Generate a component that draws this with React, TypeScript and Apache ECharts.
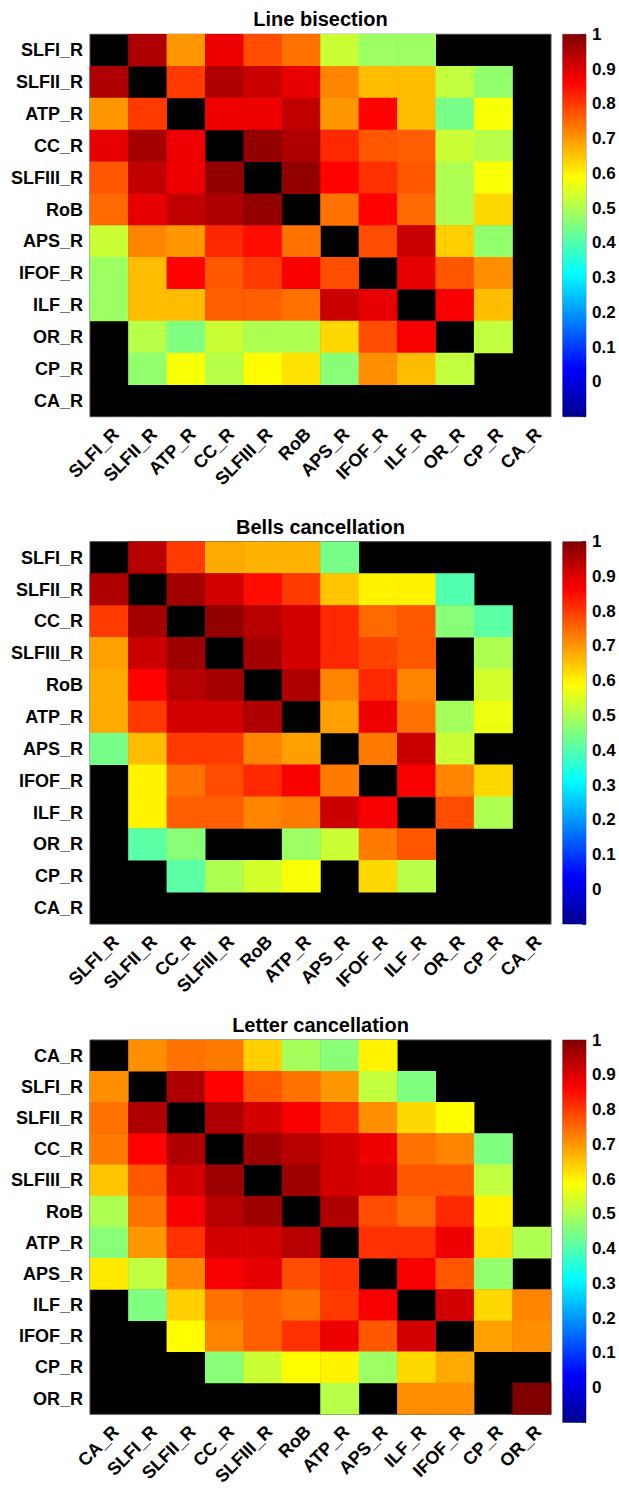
import React, { useEffect, useRef } from "react";
import * as echarts from "echarts";

// ---------- data ----------
const lineTitle = "Line bisection";
const lineCats = ["SLFI_R", "SLFII_R", "ATP_R", "CC_R", "SLFIII_R", "RoB", "APS_R", "IFOF_R", "ILF_R", "OR_R", "CP_R", "CA_R"];
const lineVals: (number | null)[][] = [
  [null, 0.95, 0.70, 0.88, 0.78, 0.74, 0.53, 0.48, 0.48, null, null, null],
  [0.95, null, 0.80, 0.95, 0.92, 0.89, 0.72, 0.66, 0.66, 0.52, 0.47, null],
  [0.70, 0.80, null, 0.88, 0.88, 0.93, 0.70, 0.86, 0.66, 0.44, 0.58, null],
  [0.89, 0.96, 0.88, null, 0.98, 0.95, 0.82, 0.77, 0.76, 0.53, 0.51, null],
  [0.77, 0.93, 0.88, 0.98, null, 0.98, 0.86, 0.81, 0.77, 0.50, 0.58, null],
  [0.75, 0.89, 0.93, 0.95, 0.98, null, 0.74, 0.86, 0.75, 0.50, 0.63, null],
  [0.53, 0.72, 0.70, 0.82, 0.85, 0.74, null, 0.78, 0.92, 0.64, 0.47, null],
  [0.48, 0.66, 0.86, 0.77, 0.80, 0.87, 0.78, null, 0.89, 0.77, 0.71, null],
  [0.48, 0.66, 0.66, 0.76, 0.76, 0.74, 0.92, 0.89, null, 0.87, 0.66, null],
  [null, 0.51, 0.45, 0.53, 0.50, 0.50, 0.63, 0.78, 0.87, null, 0.52, null],
  [null, 0.47, 0.58, 0.51, 0.59, 0.62, 0.46, 0.71, 0.66, 0.52, null, null],
  [null, null, null, null, null, null, null, null, null, null, null, null],
];

const bellsTitle = "Bells cancellation";
const bellsCats = ["SLFI_R", "SLFII_R", "CC_R", "SLFIII_R", "RoB", "ATP_R", "APS_R", "IFOF_R", "ILF_R", "OR_R", "CP_R", "CA_R"];
const bellsVals: (number | null)[][] = [
  [null, 0.94, 0.80, 0.68, 0.67, 0.67, 0.44, null, null, null, null, null],
  [0.95, null, 0.96, 0.91, 0.85, 0.80, 0.65, 0.60, 0.60, 0.40, null, null],
  [0.80, 0.96, null, 0.98, 0.94, 0.91, 0.82, 0.75, 0.77, 0.46, 0.41, null],
  [0.69, 0.92, 0.97, null, 0.96, 0.91, 0.82, 0.79, 0.77, null, 0.50, null],
  [0.68, 0.86, 0.94, 0.96, null, 0.95, 0.72, 0.82, 0.72, null, 0.54, null],
  [0.68, 0.80, 0.91, 0.91, 0.95, null, 0.69, 0.88, 0.74, 0.49, 0.57, null],
  [0.44, 0.66, 0.80, 0.80, 0.72, 0.69, null, 0.73, 0.92, 0.53, null, null],
  [null, 0.60, 0.74, 0.78, 0.82, 0.87, 0.73, null, 0.87, 0.72, 0.63, null],
  [null, 0.60, 0.76, 0.76, 0.72, 0.73, 0.92, 0.87, null, 0.78, 0.50, null],
  [null, 0.41, 0.46, null, null, 0.48, 0.53, 0.73, 0.77, null, null, null],
  [null, null, 0.41, 0.50, 0.54, 0.58, null, 0.63, 0.51, null, null, null],
  [null, null, null, null, null, null, null, null, null, null, null, null],
];

const letterTitle = "Letter cancellation";
const letterCats = ["CA_R", "SLFI_R", "SLFII_R", "CC_R", "SLFIII_R", "RoB", "ATP_R", "APS_R", "ILF_R", "IFOF_R", "CP_R", "OR_R"];
const letterVals: (number | null)[][] = [
  [null, 0.71, 0.74, 0.73, 0.64, 0.49, 0.46, 0.60, null, null, null, null],
  [0.71, null, 0.95, 0.86, 0.77, 0.74, 0.70, 0.52, 0.45, null, null, null],
  [0.74, 0.95, null, 0.95, 0.91, 0.87, 0.81, 0.71, 0.63, 0.59, null, null],
  [0.73, 0.86, 0.95, null, 0.97, 0.94, 0.91, 0.88, 0.74, 0.72, 0.45, null],
  [0.65, 0.77, 0.91, 0.97, null, 0.97, 0.91, 0.90, 0.77, 0.77, 0.52, null],
  [0.50, 0.74, 0.87, 0.94, 0.97, null, 0.95, 0.78, 0.75, 0.82, 0.60, null],
  [0.46, 0.70, 0.81, 0.91, 0.91, 0.94, null, 0.81, 0.81, 0.88, 0.62, 0.50],
  [0.61, 0.52, 0.72, 0.87, 0.89, 0.78, 0.81, null, 0.87, 0.77, 0.47, null],
  [null, 0.45, 0.64, 0.74, 0.76, 0.74, 0.80, 0.87, null, 0.91, 0.63, 0.72],
  [null, null, 0.59, 0.72, 0.76, 0.81, 0.88, 0.77, 0.91, null, 0.69, 0.71],
  [null, null, null, 0.46, 0.53, 0.59, 0.60, 0.48, 0.63, 0.68, null, null],
  [null, null, null, null, null, null, 0.51, null, 0.71, 0.71, null, 1.0],
];

const colorbarRange = [-0.1, 1];
const colorbarStep = 0.1;
const jetColors = ["#00008F", "#0000FF", "#0080FF", "#00FFFF", "#80FF80", "#FFFF00", "#FF8000", "#FF0000", "#800000"];

// ---------- layout ----------
const FONT = "'Liberation Sans', Arial, Helvetica, sans-serif";
const panelTops = [34.3, 541.7, 1040];
const panelH = 382.4;
const mapLeft = 90;
const mapW = 461;
const cbLeft = 562.7;
const cbW = 23.3;
const titleSize = 20;

export default function App() {
  const ref = useRef<HTMLDivElement>(null);
  useEffect(() => {
    if (!ref.current) return;
    const chart = echarts.init(ref.current, null, { renderer: "svg" });
    const panels = [
      { title: lineTitle, cats: lineCats, vals: lineVals },
      { title: bellsTitle, cats: bellsCats, vals: bellsVals },
      { title: letterTitle, cats: letterCats, vals: letterVals },
    ];
    const grids: any[] = [];
    const xAxes: any[] = [];
    const yAxes: any[] = [];
    const series: any[] = [];
    const titles: any[] = [];
    const visualMaps: any[] = [];
    const stops = jetColors.map((c, i) => ({ offset: i / (jetColors.length - 1), color: c }));

    panels.forEach((p, i) => {
      const top = panelTops[i];
      titles.push({
        text: p.title,
        left: mapLeft + mapW / 2,
        textAlign: "center",
        top: top - 14 - titleSize / 2 - 1,
        padding: 0,
        textStyle: { fontFamily: FONT, fontWeight: "bold", fontSize: titleSize, color: "#000" },
      });
      // heatmap grid
      grids.push({
        left: mapLeft, top, width: mapW, height: panelH,
        show: true, backgroundColor: "#000", borderColor: "#444", borderWidth: 1,
      });
      const gi = grids.length - 1;
      xAxes.push({
        type: "category", gridIndex: gi, data: p.cats,
        axisLine: { show: false }, axisTick: { show: false }, splitLine: { show: false },
        axisLabel: {
          rotate: 45, margin: 8, interval: 0, verticalAlign: "top",
          color: "#000", fontFamily: FONT, fontWeight: "bold", fontSize: 18,
        },
      });
      yAxes.push({
        type: "category", gridIndex: gi, data: p.cats, inverse: true,
        axisLine: { show: false }, axisTick: { show: false }, splitLine: { show: false },
        axisLabel: { margin: 7, interval: 0, color: "#000", fontFamily: FONT, fontWeight: "bold", fontSize: 18 },
      });
      const data: any[] = [];
      p.vals.forEach((row, r) => row.forEach((v, c) => { if (v !== null) data.push([c, r, v]); }));
      series.push({
        type: "heatmap", xAxisIndex: xAxes.length - 1, yAxisIndex: yAxes.length - 1,
        data, itemStyle: { borderWidth: 0 }, emphasis: { disabled: true },
      });
      visualMaps.push({
        show: false, type: "continuous", min: colorbarRange[0], max: colorbarRange[1],
        seriesIndex: series.length - 1, inRange: { color: jetColors },
      });
      // colorbar grid
      grids.push({
        left: cbLeft, top, width: cbW, height: panelH,
        show: true, backgroundColor: "transparent", borderColor: "#888", borderWidth: 1,
      });
      const ci = grids.length - 1;
      xAxes.push({ type: "category", gridIndex: ci, data: ["cb"], show: false });
      yAxes.push({
        type: "value", gridIndex: ci, position: "right",
        min: colorbarRange[0], max: colorbarRange[1], interval: colorbarStep,
        splitLine: { show: false }, axisLine: { show: false },
        axisTick: { show: true, inside: true, length: 4, lineStyle: { color: "#333" } },
        axisLabel: {
          margin: 6, color: "#000", fontFamily: FONT, fontWeight: "bold", fontSize: 17,
          formatter: (v: number) => (v < -0.001 ? "" : String(Math.round(v * 10) / 10)),
        },
      });
      series.push({
        type: "custom", xAxisIndex: xAxes.length - 1, yAxisIndex: yAxes.length - 1,
        data: [[0, colorbarRange[0], colorbarRange[1]]],
        encode: { x: 0, y: [1, 2] },
        renderItem: (params: any, api: any) => {
          const lo = api.coord([0, api.value(1)]);
          const hi = api.coord([0, api.value(2)]);
          const w = api.size([1, 0])[0];
          return {
            type: "rect",
            shape: { x: lo[0] - w / 2, y: hi[1], width: w, height: lo[1] - hi[1] },
            style: { fill: new echarts.graphic.LinearGradient(0, 1, 0, 0, stops) },
            z2: -1,
          };
        },
      });
    });

    chart.setOption({
      animation: false,
      backgroundColor: "#fff",
      title: titles,
      grid: grids,
      xAxis: xAxes,
      yAxis: yAxes,
      visualMap: visualMaps,
      series,
    });
    return () => chart.dispose();
  }, []);
  return <div ref={ref} style={{ position: "absolute", left: 0, top: 0, width: 619, height: 1488 }} />;
}
